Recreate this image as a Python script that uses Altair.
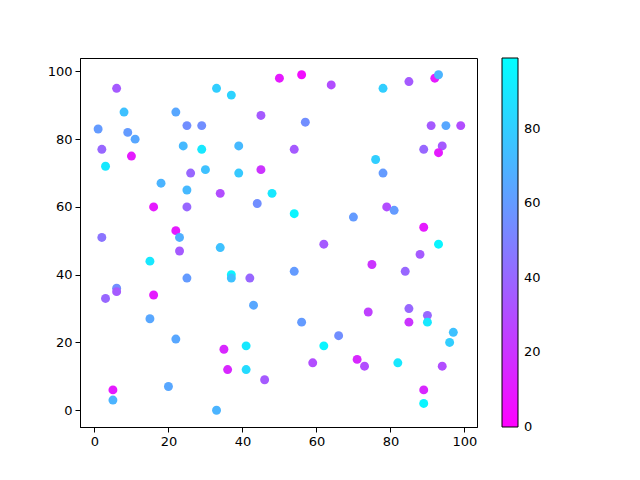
import altair as alt
import pandas as pd

xs = [1, 2, 3, 6, 8, 9, 11, 10, 18, 22, 24, 25, 29, 25, 29, 26, 30, 33, 37, 39,
      39, 34, 25, 16, 22, 23, 23, 2, 15, 34, 25, 37, 37, 42, 44, 45, 45, 48, 50, 56,
      64, 57, 54, 54, 62, 54, 70, 76, 78, 78, 85, 92, 93, 91, 95, 99, 89, 94, 93, 79,
      81, 89, 93, 75, 84, 88, 85, 85, 90, 90, 97, 96, 94, 89, 89, 82, 74, 71, 73, 62,
      66, 56, 59, 46, 41, 41, 36, 35, 43, 33, 20, 22, 15, 16, 6, 6, 3, 5, 5]
ys = [83, 77, 72, 95, 88, 82, 80, 75, 67, 88, 78, 84, 84, 65, 77, 70, 71, 95, 93, 78,
      70, 64, 60, 60, 53, 51, 47, 51, 44, 48, 39, 40, 39, 39, 61, 71, 87, 64, 98, 99,
      96, 85, 77, 58, 49, 41, 57, 74, 70, 95, 97, 98, 99, 84, 84, 84, 77, 78, 76, 60,
      59, 54, 49, 43, 41, 46, 30, 26, 28, 26, 23, 20, 13, 6, 2, 14, 29, 15, 13, 19,
      22, 26, 14, 9, 19, 12, 12, 18, 31, 0, 7, 21, 27, 34, 36, 35, 33, 6, 3]
cs = [60, 40, 90, 35, 75, 60, 65, 10, 70, 65, 72, 55, 55, 72, 90, 40, 75, 80, 82, 72,
      78, 30, 40, 10, 10, 68, 35, 45, 90, 75, 60, 95, 75, 40, 55, 20, 35, 90, 10, 5,
      30, 55, 35, 95, 35, 60, 60, 80, 60, 80, 35, 10, 70, 35, 65, 30, 40, 35, 10, 30,
      60, 10, 95, 20, 40, 35, 40, 20, 40, 90, 75, 80, 30, 15, 95, 90, 25, 15, 30, 95,
      55, 60, 30, 35, 90, 85, 15, 15, 65, 70, 65, 65, 65, 10, 55, 35, 40, 10, 70]

df = pd.DataFrame({"x": xs, "y": ys, "c": cs})

font = "DejaVu Sans"

chart = alt.Chart(df).mark_circle(size=80, opacity=1).encode(
    x=alt.X("x:Q", scale=alt.Scale(domain=[-3.9, 103.4], nice=False, zero=False),
            axis=alt.Axis(title=None, values=[0, 20, 40, 60, 80, 100], grid=False,
                          tickColor="black", domainColor="black", labelColor="black",
                          tickSize=5, labelFontSize=13, labelFont=font, labelPadding=3)),
    y=alt.Y("y:Q", scale=alt.Scale(domain=[-4.95, 103.95], nice=False, zero=False),
            axis=alt.Axis(title=None, values=[0, 20, 40, 60, 80, 100], grid=False,
                          tickColor="black", domainColor="black", labelColor="black",
                          tickSize=5, labelFontSize=13, labelFont=font, labelPadding=3)),
    color=alt.Color("c:Q",
                    scale=alt.Scale(domain=[-0.05, 99], range=["#ff00ff", "#00ffff"],
                                    interpolate="rgb", nice=False, zero=False),
                    legend=alt.Legend(title=None, orient="none", legendX=422, legendY=0,
                                      gradientLength=369, gradientThickness=16,
                                      gradientStrokeColor="black", gradientStrokeWidth=1,
                                      values=[0, 20, 40, 60, 80],
                                      labelFontSize=13, labelFont=font, labelColor="black",
                                      labelBaseline="middle", labelOverlap=False,
                                      labelOffset=6)),
).properties(
    width=397, height=369,
    autosize=alt.AutoSizeParams(type="none"),
    padding={"left": 72, "top": 50, "right": 150, "bottom": 40},
).configure_view(stroke="black", strokeWidth=1)

chart.save("out.html", embed_options={"renderer": "svg", "actions": False})
